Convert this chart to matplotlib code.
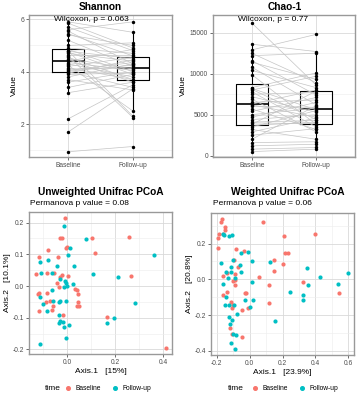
import matplotlib
matplotlib.use('agg')
import matplotlib.pyplot as plt
from matplotlib.lines import Line2D
from matplotlib.ticker import MultipleLocator, FormatStrFormatter
import numpy as np

plt.rcParams['font.family'] = ['Liberation Sans', 'DejaVu Sans']
plt.rcParams['axes.unicode_minus'] = False

W, H = 357, 400
RED = '#F8766D'
TEAL = '#00BFC4'

GROUPS = ['Baseline', 'Follow-up']

# paired alpha diversity values (same subject, same index)
SHANNON_BASE = [5.9, 5.85, 5.7, 5.6, 5.55, 5.45, 5.4, 5.2, 5.0, 4.9, 4.85, 4.8, 4.78, 4.75,
                4.7, 4.6, 4.55, 4.5, 4.45, 4.4, 4.3, 4.2, 4.1, 4.0, 3.95, 3.9, 3.8, 3.7,
                4.25, 3.6, 4.15, 4.05, 3.4, 3.2, 2.2, 1.7, 0.95, 4.65, 4.35, 4.02]
SHANNON_FOL = [5.5, 4.9, 4.8, 5.9, 4.3, 4.6, 5.0, 4.2, 5.1, 4.7, 4.0, 2.3, 4.5, 3.9,
               4.4, 2.25, 3.7, 4.1, 3.6, 4.85, 3.8, 4.55, 4.15, 3.4, 4.45, 3.95, 4.3, 3.3,
               2.5, 4.0, 3.7, 4.35, 3.9, 3.6, 3.5, 3.35, 1.15, 4.65, 4.05, 4.25]
SHANNON_P = 'Wilcoxon, p = 0.063'

CHAO_BASE = [16200, 13600, 12900, 12500, 12200, 11600, 11400, 10800, 10400, 9900,
             8300, 8200, 8100, 8000, 7800, 7500, 7200, 6900, 6500, 6300,
             6200, 6000, 5700, 5400, 5000, 4700, 4400, 4100, 3800, 3700,
             3500, 3200, 2900, 2500, 2000, 1600, 1200, 800, 500, 4000]
CHAO_FOL = [8600, 12700, 14800, 8900, 12500, 7400, 9300, 6200, 8300, 3800,
            10100, 5600, 4400, 9700, 3500, 7700, 5300, 2900, 6800, 8000,
            4700, 5900, 3200, 7100, 5800, 6500, 5000, 4300, 7900, 4100,
            5500, 2000, 4600, 3300, 6100, 1700, 1400, 1000, 800, 3900]
CHAO_P = 'Wilcoxon, p = 0.77'

# unweighted unifrac PCoA
UW_BASE_X = [-0.010, -0.029, -0.021, 0.000, -0.007, -0.081, 0.103, 0.117, 0.257, 0.266,
             -0.117, -0.040, -0.133, -0.086, -0.057, 0.004, -0.031, -0.021, -0.043, -0.033,
             0.033, 0.043, 0.040, -0.119, -0.121, -0.086, -0.091, -0.071, -0.060, -0.064,
             -0.119, 0.040, 0.050, 0.043, -0.017, 0.166, 0.410]
UW_BASE_Y = [0.213, 0.150, 0.150, 0.122, 0.120, 0.115, 0.150, 0.105, 0.156, 0.031,
             0.090, 0.093, 0.039, 0.041, 0.041, 0.032, 0.027, 0.034, 0.011, -0.002,
             -0.009, -0.026, -0.012, -0.021, -0.025, -0.021, -0.049, -0.047, -0.062, -0.075,
             -0.080, -0.062, -0.064, -0.049, -0.092, -0.097, -0.194]
UW_FOL_X = [-0.014, 0.076, 0.010, 0.004, -0.114, -0.081, -0.043, 0.026, 0.107, -0.110,
            -0.064, -0.029, -0.010, -0.007, -0.003, 0.024, -0.014, -0.064, -0.114, -0.100,
            -0.083, -0.060, -0.036, -0.029, -0.007, -0.036, -0.031, -0.036, -0.017, -0.014,
            0.007, -0.007, -0.114, 0.164, 0.193, 0.210, 0.283, 0.360]
UW_FOL_Y = [0.190, 0.148, 0.120, 0.098, 0.076, 0.081, 0.063, 0.062, 0.038, 0.041,
            0.042, 0.021, 0.016, 0.008, 0.001, 0.005, -0.002, -0.012, -0.036, -0.057,
            -0.078, -0.047, -0.049, -0.047, -0.047, -0.092, -0.109, -0.118, -0.114, -0.130,
            -0.123, -0.163, -0.183, -0.116, -0.100, 0.029, -0.054, 0.098]
UW_P = 'Permanova p value = 0.08'
UW_XLAB = 'Axis.1   [15%]'
UW_YLAB = 'Axis.2   [10.1%]'

# weighted unifrac PCoA
WU_BASE_X = [-0.166, -0.176, -0.152, -0.148, -0.188, -0.162, -0.192, -0.196, 0.082, 0.210,
             0.400, -0.082, -0.032, 0.148, 0.216, 0.234, 0.206, 0.148, -0.162, -0.092,
             -0.092, -0.088, 0.058, 0.118, 0.326, 0.546, -0.096, -0.070, -0.140, -0.104,
             -0.136, -0.160, -0.114, -0.104, -0.110, -0.120, -0.110, -0.044, -0.020, -0.030,
             -0.010, 0.120, -0.048]
WU_BASE_Y = [0.335, 0.322, 0.294, 0.276, 0.254, 0.254, 0.230, 0.174, 0.322, 0.243,
             0.252, 0.168, 0.161, 0.106, 0.146, 0.148, 0.087, 0.044, 0.020, 0.031,
             -0.002, -0.030, 0.013, -0.030, -0.017, -0.076, 0.109, 0.067, 0.035, -0.011,
             -0.070, -0.085, -0.126, -0.141, -0.159, -0.270, -0.307, -0.322, -0.076, -0.078,
             -0.163, -0.131, -0.172]
WU_FOL_X = [-0.164, -0.156, -0.124, -0.106, -0.176, -0.054, -0.010, 0.016, 0.126, -0.104,
            -0.144, -0.116, -0.116, -0.060, -0.054, -0.130, -0.164, -0.090, 0.016, -0.144,
            -0.124, -0.150, -0.096, -0.030, 0.020, 0.000, -0.080, -0.124, -0.110, -0.120,
            -0.104, -0.084, -0.116, -0.090, 0.156, 0.350, 0.426, 0.596, 0.536, 0.354,
            0.246, 0.324, 0.326]
WU_FOL_Y = [0.252, 0.248, 0.244, 0.248, 0.091, 0.146, 0.152, 0.104, 0.096, 0.109,
            0.040, 0.040, 0.067, 0.078, 0.040, 0.007, -0.026, 0.007, -0.015, -0.100,
            -0.141, -0.141, -0.141, -0.113, -0.113, -0.156, -0.191, -0.211, -0.230, -0.248,
            -0.304, -0.311, -0.354, -0.387, -0.233, 0.063, 0.011, 0.035, -0.024, -0.030,
            -0.070, -0.090, -0.117]
WU_P = 'Permanova p value = 0.06'
WU_XLAB = 'Axis.1   [23.9%]'
WU_YLAB = 'Axis.2   [20.8%]'


def px_axes(fig, l, t, r, b):
    return fig.add_axes([l / W, 1 - b / H, (r - l) / W, (b - t) / H])


def style_axes(ax):
    for s in ax.spines.values():
        s.set_color('#999999')
        s.set_linewidth(1.0)
    ax.set_facecolor('white')
    ax.grid(which='major', color='#D9D9D9', lw=0.6, zorder=0)
    ax.grid(which='minor', color='#EDEDED', lw=0.4, zorder=0)
    ax.set_axisbelow(True)
    ax.tick_params(which='major', length=2, width=0.5, color='#333333',
                   labelsize=4.8, labelcolor='#4D4D4D', pad=1.5)
    ax.tick_params(which='minor', length=0)


def paired_panel(ax, base, fol, ylim, major, ptext):
    ax.boxplot([base, fol], positions=[1, 2], widths=0.5, showfliers=False,
               boxprops=dict(color='black', lw=0.8),
               whiskerprops=dict(color='black', lw=0.8),
               capprops=dict(lw=0),
               medianprops=dict(color='black', lw=1.2), zorder=1)
    for b, f in zip(base, fol):
        ax.plot([1, 2], [b, f], color='#C4C4C4', lw=0.5, zorder=2)
    ax.scatter(np.ones(len(base)), base, s=6, c='black', zorder=3, lw=0)
    ax.scatter(np.full(len(fol), 2), fol, s=6, c='black', zorder=3, lw=0)
    ax.set_xlim(0.4, 2.6)
    ax.set_ylim(*ylim)
    ax.set_xticks([1, 2])
    ax.set_xticklabels(GROUPS)
    ax.yaxis.set_major_locator(MultipleLocator(major))
    ax.yaxis.set_minor_locator(MultipleLocator(major / 2))
    style_axes(ax)
    ax.set_ylabel('Value', fontsize=6, labelpad=2)
    ax.text(0.78, 0.97, ptext, transform=ax.get_xaxis_transform(),
            ha='left', va='center', fontsize=6, color='black', zorder=5)


def pcoa_panel(ax, bx, by, fx, fy, xmaj, ymaj, xlab, ylab):
    ax.scatter(bx, by, s=9, c=RED, lw=0, zorder=3)
    ax.scatter(fx, fy, s=9, c=TEAL, lw=0, zorder=3)
    ax.xaxis.set_major_locator(MultipleLocator(xmaj))
    ax.xaxis.set_minor_locator(MultipleLocator(xmaj / 2))
    ax.yaxis.set_major_locator(MultipleLocator(ymaj))
    ax.yaxis.set_minor_locator(MultipleLocator(ymaj / 2))
    ax.xaxis.set_major_formatter(FormatStrFormatter('%.1f'))
    ax.yaxis.set_major_formatter(FormatStrFormatter('%.1f'))
    style_axes(ax)
    ax.set_xlabel(xlab, fontsize=6, labelpad=1.5)
    ax.set_ylabel(ylab, fontsize=6, labelpad=1.5)


def legend_row(fig, x_time, x_leg, y):
    fig.text(x_time / W, 1 - y / H, 'time', fontsize=6, va='center', ha='left')
    handles = [Line2D([], [], marker='o', ls='', color=RED, markersize=2.6),
               Line2D([], [], marker='o', ls='', color=TEAL, markersize=2.6)]
    leg = fig.legend(handles, GROUPS, ncol=2, frameon=False, fontsize=4.8,
                     loc='center left', bbox_to_anchor=(x_leg / W, 1 - y / H),
                     handlelength=1.2, handletextpad=0.5, columnspacing=1.6,
                     borderpad=0, borderaxespad=0)
    return leg


def main():
    fig = plt.figure(figsize=(W / 100, H / 100), dpi=100, facecolor='white')

    ax1 = px_axes(fig, 29, 15, 172, 157)
    paired_panel(ax1, SHANNON_BASE, SHANNON_FOL, (0.75, 6.16), 2, SHANNON_P)
    ax2 = px_axes(fig, 213, 15, 355, 157)
    paired_panel(ax2, CHAO_BASE, CHAO_FOL, (-160, 17160), 5000, CHAO_P)

    ax3 = px_axes(fig, 29, 212, 172, 354)
    pcoa_panel(ax3, UW_BASE_X, UW_BASE_Y, UW_FOL_X, UW_FOL_Y, 0.2, 0.1, UW_XLAB, UW_YLAB)
    ax4 = px_axes(fig, 211, 213, 354, 355)
    pcoa_panel(ax4, WU_BASE_X, WU_BASE_Y, WU_FOL_X, WU_FOL_Y, 0.2, 0.2, WU_XLAB, WU_YLAB)

    fig.text(100.5 / W, 1 - 6.5 / H, 'Shannon', fontsize=7.3, fontweight='bold', ha='center', va='center')
    fig.text(285 / W, 1 - 6.5 / H, 'Chao-1', fontsize=7.3, fontweight='bold', ha='center', va='center')
    fig.text(101 / W, 1 - 192 / H, 'Unweighted Unifrac PCoA', fontsize=7.3, fontweight='bold', ha='center', va='center')
    fig.text(288 / W, 1 - 192 / H, 'Weighted Unifrac PCoA', fontsize=7.3, fontweight='bold', ha='center', va='center')
    fig.text(30 / W, 1 - 203.5 / H, UW_P, fontsize=6, ha='left', va='center')
    fig.text(213 / W, 1 - 203.5 / H, WU_P, fontsize=6, ha='left', va='center')

    legend_row(fig, 45, 64, 389)
    legend_row(fig, 228, 251, 389)

    fig.savefig('out.png', dpi=100)


if __name__ == '__main__':
    main()
